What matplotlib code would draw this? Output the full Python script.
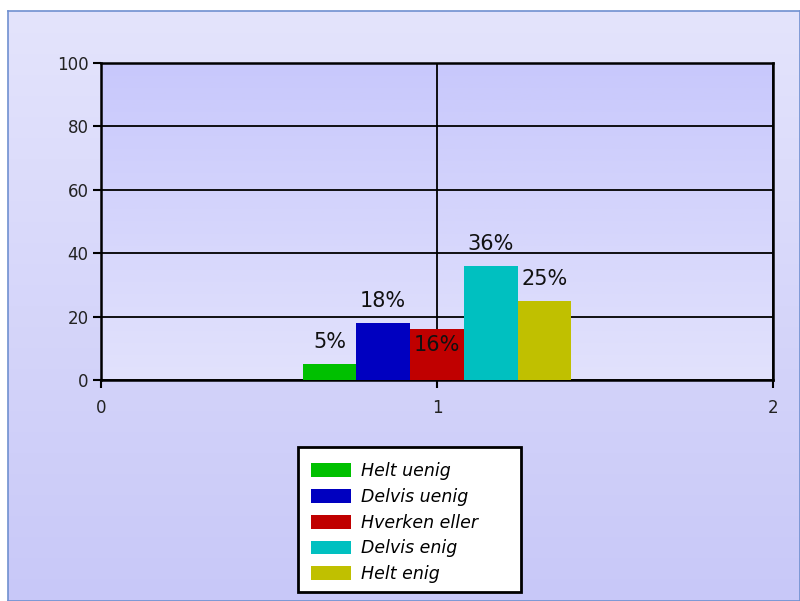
import matplotlib
matplotlib.use("Agg")
import matplotlib.pyplot as plt
import numpy as np
from matplotlib.colors import LinearSegmentedColormap
from matplotlib.patches import Rectangle

categories = ["Helt uenig", "Delvis uenig", "Hverken eller", "Delvis enig", "Helt enig"]
values = [5, 18, 16, 36, 25]
labels = ["5%", "18%", "16%", "36%", "25%"]
label_y = [12, 25, 11, 43, 32]
colors = ["#00c000", "#0000c0", "#c00000", "#00c0c0", "#c0c000"]
xticks = [0, 1, 2]
yticks = [0, 20, 40, 60, 80, 100]

W, H = 800, 601
fig = plt.figure(figsize=(W / 100, H / 100), dpi=100, facecolor="white")

# background panel with gradient
bg = fig.add_axes([8 / W, 0, 1 - 8 / W, (H - 11) / H])
grad = np.linspace(0, 1, 256).reshape(-1, 1)
cmap_bg = LinearSegmentedColormap.from_list("bg", ["#e4e4fc", "#c8c8f8"])
bg.imshow(grad, aspect="auto", cmap=cmap_bg, extent=[0, 1, 0, 1], origin="upper")
bg.set_xlim(0, 1)
bg.set_ylim(0, 1)
bg.set_xticks([])
bg.set_yticks([])
for s in bg.spines.values():
    s.set_color("#7090d0")
    s.set_linewidth(1.2)
bg.set_zorder(0)

ax = fig.add_axes([101 / W, (H - 380) / H, 672 / W, 317 / H])
ax.set_zorder(1)
cmap_pa = LinearSegmentedColormap.from_list("pa", ["#c8c8fc", "#e2e2fc"])
ax.imshow(grad, aspect="auto", cmap=cmap_pa, extent=[0, 2, 0, 100], origin="upper", zorder=0)

width = 0.16
n = len(values)
xs = [1 + (i - (n - 1) / 2) * width for i in range(n)]
for x, v, c, cat in zip(xs, values, colors, categories):
    ax.bar(x, v, width=width, color=c, label=cat, zorder=3)
for x, ly, t in zip(xs, label_y, labels):
    ax.text(x, ly, t, ha="center", va="center", fontsize=15, color="#111111", zorder=4)

ax.set_xlim(0, 2)
ax.set_ylim(0, 100)
ax.set_xticks(xticks)
ax.set_yticks(yticks)
ax.grid(True, color="black", linewidth=1.3, zorder=1)
ax.set_axisbelow(True)
for s in ax.spines.values():
    s.set_linewidth(1.8)
    s.set_color("black")
ax.tick_params(axis="both", direction="out", length=6, width=1.5, labelsize=12, colors="black",
               labelcolor="#222222")
ax.tick_params(axis="x", pad=8)
ax.tick_params(axis="y", pad=3)

# legend box
box = Rectangle((298 / W, (H - 592) / H), 223 / W, 145 / H, transform=fig.transFigure,
                facecolor="white", edgecolor="black", linewidth=2, zorder=4)
fig.patches.append(box)

handles, lbls = ax.get_legend_handles_labels()
leg = fig.legend(handles, lbls, loc="upper left", bbox_to_anchor=(311 / W, (H - 462) / H),
                 prop={"style": "italic", "size": 12.5}, frameon=False,
                 handlelength=2.3, handleheight=0.85, labelspacing=0.45,
                 borderpad=0, borderaxespad=0, handletextpad=0.6)
leg.set_zorder(5)

fig.savefig("out.png", dpi=100, facecolor="white")
